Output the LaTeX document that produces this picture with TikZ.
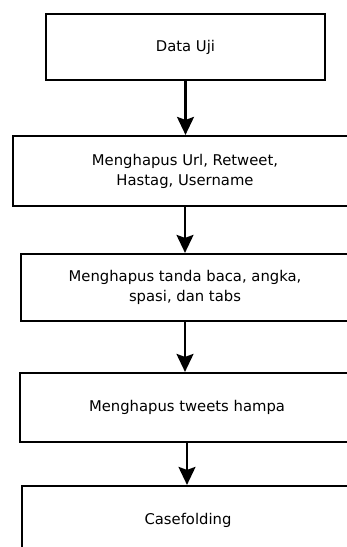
\documentclass[tikz,border=0pt]{standalone}
\usepackage{fontspec}
\setmainfont{DejaVu Sans}
\usetikzlibrary{arrows.meta}

\begin{document}
\begin{tikzpicture}[
  x=1pt,y=1pt,
  font=\fontsize{14.8}{20}\selectfont,
  box/.style={draw,line width=2.2pt,inner sep=2pt,align=center},
  >={Stealth[length=18pt,width=17pt,inset=3pt]}]
\useasboundingbox (0,0) rectangle (347,-547);
\node[box,minimum width=279,minimum height=66] (b1) at (185.5,-47)  {Data Uji};
\node[box,minimum width=344,minimum height=70] (b2) at (185,-171)   {Menghapus Url, Retweet,\\Hastag, Username};
\node[box,minimum width=328,minimum height=67] (b3) at (185,-287.5) {Menghapus tanda baca, angka,\\spasi, dan tabs};
\node[box,minimum width=334,minimum height=69] (b4) at (187,-407.5) {Menghapus tweets hampa};
\node[box,minimum width=332,minimum height=68] (b5) at (188,-520)   {Casefolding};
\draw[->,line width=2.2pt] (b1.south) -- (b1.south |- b2.north);
\draw[->,line width=2.2pt] (b2.south) -- (b2.south |- b3.north);
\draw[->,line width=2.2pt] (b3.south) -- (b3.south |- b4.north);
\draw[->,line width=2.2pt] (b4.south) -- (b4.south |- b5.north);
\end{tikzpicture}
\end{document}
